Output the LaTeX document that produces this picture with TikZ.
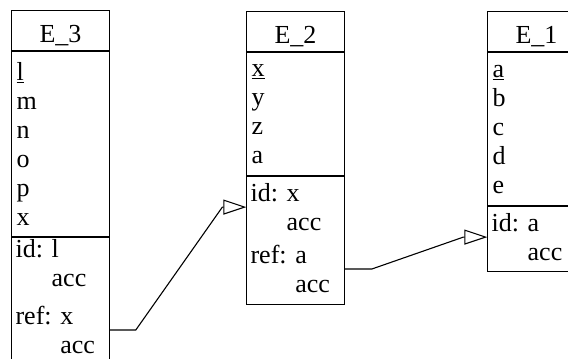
\documentclass[tikz,border=0pt]{standalone}
\usepackage{fontspec}
\setmainfont{Liberation Serif}
\frenchspacing
\usetikzlibrary{arrows.meta,positioning}
\tikzset{
  head/.style={draw, line width=1.1pt, minimum width=98pt, minimum height=40pt,
    inner sep=0pt, text height=24pt, text depth=0pt, font=\fontsize{26}{29}\selectfont},
  attrs/.style={draw, line width=1.1pt, minimum width=98pt, text width=88pt,
    inner xsep=5pt, inner ysep=0pt, align=left, font=\fontsize{26}{29}\selectfont},
  keys/.style={draw, line width=1.1pt, minimum width=98pt, inner sep=0pt},
  keygrp/.style={text width=90pt, inner xsep=4pt, inner ysep=0pt, align=left,
    font=\fontsize{26}{29}\selectfont},
  fk/.style={-{Triangle[open, length=23pt, width=15pt]}, line width=1.1pt}
}

\begin{document}
\begin{tikzpicture}[x=1pt,y=-1pt]
  \useasboundingbox (0,0) rectangle (568,359);

  \node[head, anchor=north west] (e3h) at (11,10) {E\textunderscore 3};
  \node[attrs, minimum height=185pt, below=0pt of e3h] (e3a) {\underline{l}\\m\\n\\o\\p\\x};
  \node[keys, minimum height=135pt, below=0pt of e3a] (e3k) {};
  \node[keygrp, below=2pt of e3k.north] (e3id) {id: l\\\phantom{id: }acc};
  \node[keygrp, below=19pt of e3id] (e3ref) {ref: x\\\phantom{ref: }acc};

  \node[head, anchor=north west] (e2h) at (246,11) {E\textunderscore 2};
  \node[attrs, minimum height=123pt, below=0pt of e2h] (e2a) {\underline{x}\\y\\z\\a};
  \node[keys, minimum height=128pt, below=0pt of e2a] (e2k) {};
  \node[keygrp, below=7pt of e2k.north] (e2id) {id: x\\\phantom{id: }acc};
  \node[keygrp, below=14pt of e2id] (e2ref) {ref: a\\\phantom{ref: }acc};

  \node[head, anchor=north west] (e1h) at (487,11) {E\textunderscore 1};
  \node[attrs, minimum height=153pt, below=0pt of e1h] (e1a) {\underline{a}\\b\\c\\d\\e};
  \node[keys, minimum height=65pt, below=0pt of e1a] (e1k) {};
  \node[keygrp, below=7pt of e1k.north] (e1id) {id: a\\\phantom{id: }acc};

  \draw[fk] (e3ref.east) -- ++(26pt,0) -- ([xshift=-24pt]e2id.west) -- (e2id.west);
  \draw[fk] (e2ref.east) -- ++(27pt,0) -- ([xshift=-24pt]e1id.west) -- (e1id.west);
\end{tikzpicture}
\end{document}
